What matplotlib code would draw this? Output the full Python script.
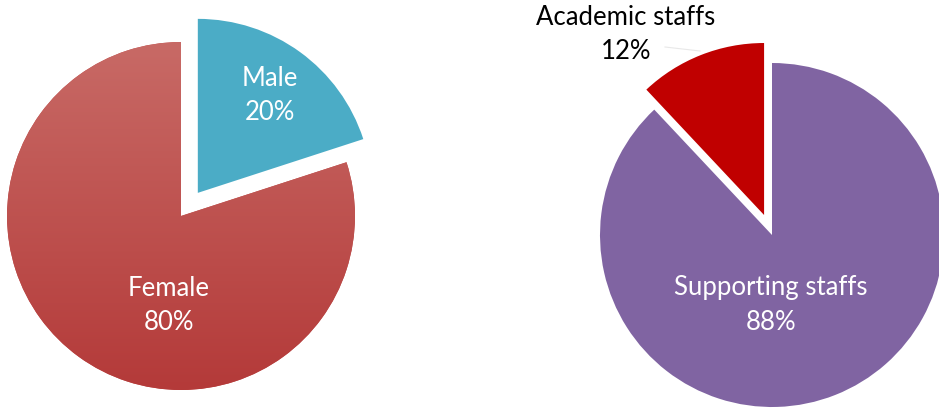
import matplotlib
matplotlib.use("Agg")
import matplotlib.pyplot as plt
import numpy as np
from matplotlib.colors import LinearSegmentedColormap

plt.rcParams['font.family'] = ['Lato', 'DejaVu Sans']

gender_labels = ["Male", "Female"]
gender_values = [20, 80]
staff_labels = ["Academic staffs", "Supporting staffs"]
staff_values = [12, 88]

W, H = 939, 412
fig = plt.figure(figsize=(W / 100, H / 100), dpi=100)
ax = fig.add_axes([0, 0, 1, 1])
ax.set_xlim(0, W)
ax.set_ylim(0, H)
ax.set_aspect('equal')
ax.axis('off')

# Left pie
c1 = (181, H - 216)
r1 = 174
wedges1, _ = ax.pie(gender_values, center=c1, radius=r1, startangle=90,
                    counterclock=False, explode=[28.6, 0],
                    colors=["#4BACC6", "#C0504D"], frame=True,
                    wedgeprops=dict(linewidth=0))
# gradient for Female
fem = wedges1[1]
grad = np.linspace(0, 1, 256).reshape(-1, 1)
cmap = LinearSegmentedColormap.from_list("fg", ["#B43A39", "#C86A66"])
im = ax.imshow(grad, cmap=cmap, extent=[c1[0] - r1, c1[0] + r1, c1[1] - r1, c1[1] + r1],
               origin='lower', aspect='auto', zorder=fem.get_zorder() + 0.1)
im.set_clip_path(fem)

# Right pie
c2 = (772, H - 235)
r2 = 172
wedges2, _ = ax.pie(staff_values, center=c2, radius=r2, startangle=90,
                    counterclock=True, explode=[21.5, 0],
                    colors=["#C00000", "#8064A2"], frame=True,
                    wedgeprops=dict(linewidth=0))

ax.set_xlim(0, W)
ax.set_ylim(0, H)
ax.axis('off')

fs = 18.5
ls = 1.45
ax.text(270, H - 95, f"{gender_labels[0]}\n{gender_values[0]}%", color="white",
        ha="center", va="center", fontsize=fs, linespacing=ls, zorder=10)
ax.text(169, H - 305, f"{gender_labels[1]}\n{gender_values[1]}%", color="white",
        ha="center", va="center", fontsize=fs, linespacing=ls, zorder=10)
ax.text(771, H - 305, f"{staff_labels[1]}\n{staff_values[1]}%", color="white",
        ha="center", va="center", fontsize=fs, linespacing=ls, zorder=10)
ax.text(626, H - 34, f"{staff_labels[0]}\n{staff_values[0]}%", color="black",
        ha="center", va="center", fontsize=fs, linespacing=ls, zorder=10)
ax.plot([665, 700], [H - 47, H - 51], color="#E8E8E8", lw=0.8, zorder=5)

fig.savefig("out.png", dpi=100)
